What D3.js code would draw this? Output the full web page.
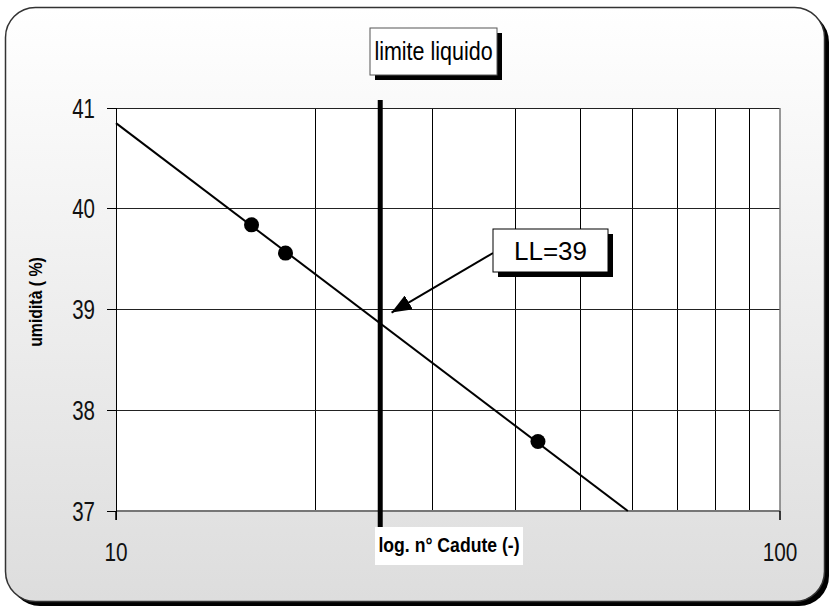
<!DOCTYPE html>
<html>
<head>
<meta charset="utf-8">
<script src="https://cdn.jsdelivr.net/npm/d3@7"></script>
<style>
  body { margin: 0; background: #fff; }
  svg { display: block; }
</style>
</head>
<body>
<svg width="829" height="607"></svg>
<script>
// misure: numero di colpi (N) e umidità (%)
const cadute = [16, 18, 43.2];
const umidita = [39.84, 39.56, 37.69];

// retta interpolante
const rettaN = [10, 59];
const rettaW = [40.85, 37];

const nLL = 25;
const freccia = { n: 26, w: 38.97 };
const etichettaLL = "LL=39";

const yTicks = [37, 38, 39, 40, 41];
const xGrid = [20, 30, 40, 50, 60, 70, 80, 90];
const xTicks = [10, 100];

const svg = d3.select("svg");
const sans = "'Liberation Sans', Arial, sans-serif";

// testo "stretto" (simula Arial Narrow)
function narrowText(sel, px, py, sx, rot) {
  sel.attr("transform", "translate(" + px + "," + py + ")" + (rot ? " rotate(" + rot + ")" : "") + " scale(" + sx + ",1)");
  return sel;
}

var defs = svg.append("defs");
var grad = defs.append("linearGradient")
  .attr("id", "bg")
  .attr("x1", 0).attr("y1", 0).attr("x2", 0).attr("y2", 1);
grad.append("stop").attr("offset", "0").attr("stop-color", "#ffffff");
grad.append("stop").attr("offset", "1").attr("stop-color", "#dddddd");

defs.append("marker")
  .attr("id", "head")
  .attr("viewBox", "0 0 20 16")
  .attr("refX", 20).attr("refY", 8)
  .attr("markerWidth", 20).attr("markerHeight", 16)
  .attr("markerUnits", "userSpaceOnUse")
  .attr("orient", "auto")
  .append("path")
  .attr("d", "M0,0L20,8L0,16z")
  .attr("fill", "#000");

// cornice
svg.append("rect")
  .attr("x", 10).attr("y", 12).attr("width", 819).attr("height", 594)
  .attr("rx", 30).attr("fill", "#000");
svg.append("rect")
  .attr("x", 5.5).attr("y", 7.5).attr("width", 819).attr("height", 594)
  .attr("rx", 30).attr("fill", "url(#bg)")
  .attr("stroke", "#333").attr("stroke-width", 1.5);

var x = d3.scaleLog().domain([10, 100]).range([116, 780]);
var y = d3.scaleLinear().domain([37, 41]).range([511, 108]);

// area del grafico
svg.append("rect")
  .attr("x", x(10)).attr("y", y(41))
  .attr("width", x(100) - x(10)).attr("height", y(37) - y(41))
  .attr("fill", "#fff");

var g = svg.append("g");

g.selectAll(".vgrid")
  .data(xGrid)
  .enter().append("line")
  .attr("x1", d => x(d)).attr("x2", d => x(d))
  .attr("y1", y(41)).attr("y2", y(37))
  .attr("stroke", "#000").attr("stroke-width", 1)
  .attr("shape-rendering", "crispEdges");

g.selectAll(".hgrid")
  .data(yTicks.filter(d => d > 37))
  .enter().append("line")
  .attr("x1", x(10)).attr("x2", x(100))
  .attr("y1", d => y(d)).attr("y2", d => y(d))
  .attr("stroke", "#222").attr("stroke-width", 1)
  .attr("shape-rendering", "crispEdges");

// bordo destro
g.append("line")
  .attr("x1", x(100)).attr("x2", x(100))
  .attr("y1", y(41)).attr("y2", y(37))
  .attr("stroke", "#777").attr("stroke-width", 1.5);

// asse x
g.append("line")
  .attr("x1", x(10)).attr("x2", x(100))
  .attr("y1", y(37)).attr("y2", y(37))
  .attr("stroke", "#777").attr("stroke-width", 2);
g.selectAll(".xtick")
  .data(xTicks)
  .enter().append("line")
  .attr("x1", d => x(d)).attr("x2", d => x(d))
  .attr("y1", y(37)).attr("y2", y(37) + 9)
  .attr("stroke", "#000").attr("stroke-width", 1.5);
g.selectAll(".xlab")
  .data(xTicks)
  .enter().append("text")
  .each(function(d) { narrowText(d3.select(this), x(d), 561, 0.8); })
  .attr("text-anchor", "middle")
  .attr("font-family", sans).attr("font-size", 26)
  .attr("fill", "#111")
  .text(d => d);

// asse y
g.append("line")
  .attr("x1", x(10)).attr("x2", x(10))
  .attr("y1", y(41)).attr("y2", y(37) + 9)
  .attr("stroke", "#000").attr("stroke-width", 1)
  .attr("shape-rendering", "crispEdges");
g.selectAll(".ytick")
  .data(yTicks)
  .enter().append("line")
  .attr("x1", x(10) - 9).attr("x2", x(10))
  .attr("y1", d => y(d)).attr("y2", d => y(d))
  .attr("stroke", "#000").attr("stroke-width", 1)
  .attr("shape-rendering", "crispEdges");
g.selectAll(".ylab")
  .data(yTicks)
  .enter().append("text")
  .each(function(d) { narrowText(d3.select(this), 95, y(d), 0.76); })
  .attr("dy", "0.36em")
  .attr("text-anchor", "end")
  .attr("font-family", sans).attr("font-size", 27)
  .attr("fill", "#111")
  .text(d => d);

// linea del limite liquido
g.append("line")
  .attr("x1", x(nLL)).attr("x2", x(nLL))
  .attr("y1", y(41) - 8).attr("y2", y(37) + 37)
  .attr("stroke", "#000").attr("stroke-width", 5);

// retta
var line = d3.line()
  .x((d, i) => x(d))
  .y((d, i) => y(rettaW[i]));
g.append("path")
  .datum(rettaN)
  .attr("fill", "none")
  .attr("stroke", "#000")
  .attr("stroke-width", 2)
  .attr("d", line);

// punti
g.selectAll(".pt")
  .data(cadute)
  .enter().append("circle")
  .attr("cx", d => x(d))
  .attr("cy", (d, i) => y(umidita[i]))
  .attr("r", 7.5)
  .attr("fill", "#000");

// freccia e etichetta LL
var bx = 493, by = 229, bw = 115, bh = 43;
g.append("line")
  .attr("x1", bx).attr("y1", by + 24)
  .attr("x2", x(freccia.n)).attr("y2", y(freccia.w))
  .attr("stroke", "#000").attr("stroke-width", 2)
  .attr("marker-end", "url(#head)");
g.append("rect")
  .attr("x", bx + 5).attr("y", by + 5).attr("width", bw).attr("height", bh)
  .attr("fill", "#000");
g.append("rect")
  .attr("x", bx).attr("y", by).attr("width", bw).attr("height", bh)
  .attr("fill", "#fff").attr("stroke", "#000").attr("stroke-width", 1);
g.append("text")
  .attr("x", bx + bw / 2).attr("y", by + 31)
  .attr("text-anchor", "middle")
  .attr("font-family", sans).attr("font-size", 26)
  .attr("fill", "#000")
  .text(etichettaLL);

// titolo
var tx = 370, ty = 28, tw = 127, th = 47;
svg.append("rect")
  .attr("x", tx + 5).attr("y", ty + 5).attr("width", tw).attr("height", th)
  .attr("fill", "#000");
svg.append("rect")
  .attr("x", tx).attr("y", ty).attr("width", tw).attr("height", th)
  .attr("fill", "#fff").attr("stroke", "#555").attr("stroke-width", 1);
narrowText(svg.append("text"), tx + tw / 2, ty + 32, 0.86)
  .attr("text-anchor", "middle")
  .attr("font-family", sans).attr("font-size", 25)
  .attr("fill", "#000")
  .text("limite liquido");

// titoli assi
svg.append("rect")
  .attr("x", 375).attr("y", 527).attr("width", 148).attr("height", 38)
  .attr("fill", "#fff");
narrowText(svg.append("text"), 449, 552, 0.84)
  .attr("text-anchor", "middle")
  .attr("font-family", sans).attr("font-size", 21)
  .attr("font-weight", "bold")
  .attr("fill", "#000")
  .text("log. n° Cadute (-)");

narrowText(svg.append("text"), 42, 302, 0.88, -90)
  .attr("text-anchor", "middle")
  .attr("font-family", sans).attr("font-size", 18)
  .attr("font-weight", "bold")
  .attr("fill", "#000")
  .text("umidità ( %)");
</script>
</body>
</html>
